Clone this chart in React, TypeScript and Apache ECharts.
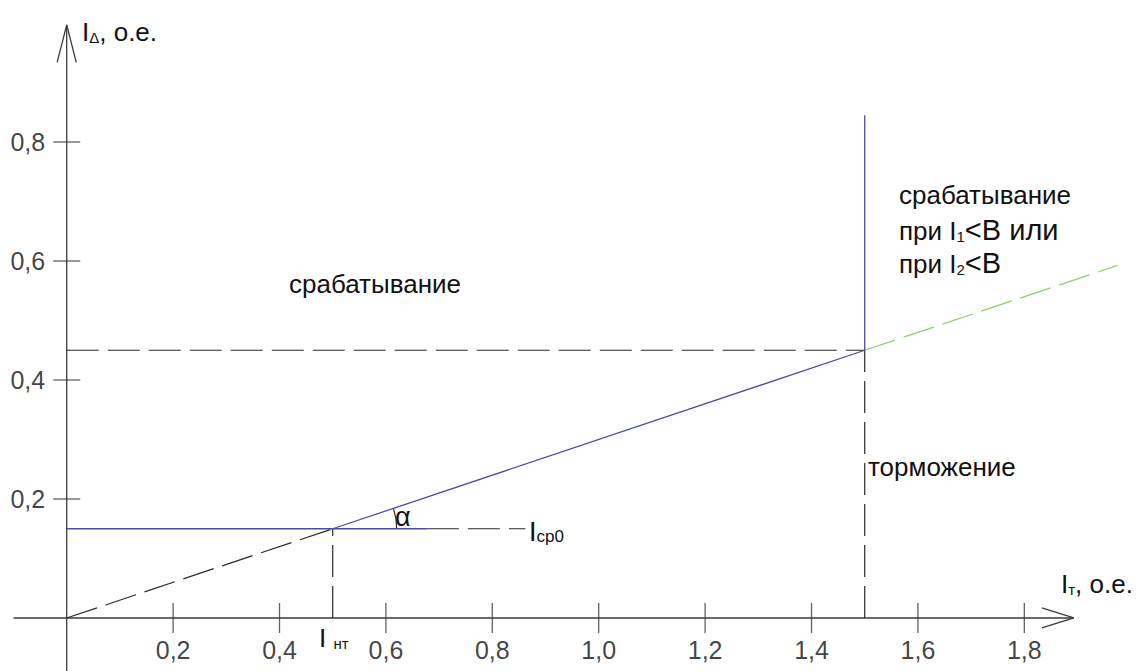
import React, { useEffect, useRef } from 'react';
import * as echarts from 'echarts';

// ---- data ----
const xTicks = [0.2, 0.4, 0.6, 0.8, 1.0, 1.2, 1.4, 1.6, 1.8];
const yTicks = [0.2, 0.4, 0.6, 0.8];

// characteristic (blue)
const blueFlat = [[0, 0.15], [0.677, 0.15]];
const blueSlope = [[0.5, 0.15], [1.5, 0.45]];
const blueVertical = [[1.5, 0.45], [1.5, 0.845]];
// green extension
const greenExt = [[1.5, 0.45], [1.975, 0.5925]];
// black dashed construction lines
const dashOrigin = [[0, 0], [0.5, 0.15]];
const dashIcp0 = [[0.677, 0.15], [0.862, 0.15]];
const dashInt = [[0.5, 0], [0.5, 0.15]];
const dashH045 = [[0, 0.45], [1.5, 0.45]];
const dashV15 = [[1.5, 0], [1.5, 0.45]];
// axes
const xAxisLine = [[-0.1, 0], [1.893, 0]];
const xArrow = [[1.833, 0.0168], [1.893, 0], [1.833, -0.0168]];
const yAxisLine = [[0, -0.09], [0, 0.997]];
const yArrow = [[-0.018, 0.934], [0, 0.997], [0.018, 0.934]];
const kneePoint = [0.5, 0.15];

const X_MIN = -0.1254, X_MAX = 2.0118;
const Y_MIN = -0.0891, Y_MAX = 1.0387;

const FONT = '"Liberation Sans", Arial, Helvetica, sans-serif';
const AX = '#3a3a3a';
const BLUE = '#4c4ca6';
const GREEN = '#88d270';
const DASH = '#2a2a2a';
const TXT = '#111';

const line = (data: number[][], color: string, width: number, dash?: number[]) => ({
  type: 'line',
  data,
  symbol: 'none',
  silent: true,
  lineStyle: { color, width, type: dash ? dash : 'solid' },
});

const fmt = (v: number) => v.toFixed(1).replace('.', ',');

const txt = (x: number, y: number, text: string, fontSize = 26, rich?: any) => ({
  type: 'text',
  x,
  y,
  silent: true,
  style: {
    text,
    fill: TXT,
    fontSize,
    fontFamily: FONT,
    align: 'left',
    verticalAlign: 'middle',
    rich,
  },
});

export default function App() {
  const ref = useRef<HTMLDivElement>(null);
  useEffect(() => {
    if (!ref.current) return;
    const chart = echarts.init(ref.current, undefined, { renderer: 'svg' });
    const dash = [32, 9];
    chart.setOption({
      animation: false,
      backgroundColor: '#ffffff',
      grid: { left: 0, right: 0, top: 0, bottom: 0, containLabel: false },
      xAxis: { type: 'value', min: X_MIN, max: X_MAX, show: false },
      yAxis: { type: 'value', min: Y_MIN, max: Y_MAX, show: false },
      series: [
        line(xAxisLine, AX, 1.3),
        line(xArrow, AX, 1.3),
        line(yAxisLine, AX, 1.3),
        line(yArrow, AX, 1.3),
        line(dashOrigin, DASH, 1.2, dash),
        line(dashIcp0, DASH, 1.2, dash),
        line(dashInt, DASH, 1.2, dash),
        line(dashH045, DASH, 1.2, dash),
        line(dashV15, DASH, 1.2, dash),
        line(greenExt, GREEN, 1.3, dash),
        line(blueFlat, BLUE, 1.3),
        line(blueSlope, BLUE, 1.3),
        line(blueVertical, BLUE, 1.3),
        {
          type: 'scatter',
          silent: true,
          data: xTicks.map((v) => [v, 0]),
          symbol: 'rect',
          symbolSize: [1.3, 30],
          itemStyle: { color: AX },
          label: {
            show: true,
            position: 'inside',
            offset: [0, 32],
            color: TXT,
            fontSize: 25,
            fontFamily: FONT,
            formatter: (p: any) => fmt(p.value[0]),
          },
        },
        {
          type: 'scatter',
          silent: true,
          data: yTicks.map((v) => [0, v]),
          symbol: 'rect',
          symbolSize: [27, 1.3],
          itemStyle: { color: AX },
          label: {
            show: true,
            position: 'left',
            distance: 8,
            color: TXT,
            fontSize: 25,
            fontFamily: FONT,
            formatter: (p: any) => fmt(p.value[1]),
          },
        },
      ],
    });

    const [kx, ky] = chart.convertToPixel({ gridIndex: 0 }, kneePoint) as number[];
    const [sx, sy] = chart.convertToPixel({ gridIndex: 0 }, blueSlope[1]) as number[];
    const ang = Math.atan2(sy - ky, sx - kx);
    const small = { fontSize: 15, fontFamily: FONT, fill: TXT, verticalAlign: 'bottom', lineHeight: 30 };
    const big = { fontSize: 26, fontFamily: FONT, fill: TXT, verticalAlign: 'bottom', lineHeight: 30 };
    const bigger = { fontSize: 29, fontFamily: FONT, fill: TXT, verticalAlign: 'bottom', lineHeight: 30 };

    chart.setOption({
      graphic: [
        {
          type: 'arc',
          silent: true,
          shape: { cx: kx, cy: ky, r: 64, startAngle: ang, endAngle: 0, clockwise: true },
          style: { stroke: DASH, lineWidth: 1.2, fill: 'none' },
        },
        txt(395, 517, 'α', 27),
        txt(82, 30, '{b|I}{s|Δ}{b|, о.е.}', 26, { b: big, s: small }),
        txt(1061, 582, '{b|I}{s|т}{b|, о.е.}', 26, { b: big, s: small }),
        txt(319, 636, '{b|I} {s|нт}', 26, { b: big, s: small }),
        txt(529, 530, '{b|I}{s|ср0}', 26, { b: { ...big, fontSize: 27 }, s: { ...small, fontSize: 17 } }),
        txt(289, 284, 'срабатывание', 26),
        txt(868, 467, 'торможение', 26),
        txt(899, 195, 'срабатывание', 26),
        txt(899, 229, '{b|при I}{s|1}{g|<B или}', 26, { b: big, s: small, g: bigger }),
        txt(899, 262, '{b|при I}{s|2}{g|<B}', 26, { b: big, s: small, g: bigger }),
      ],
    });

    return () => chart.dispose();
  }, []);
  return (
    <div
      ref={ref}
      style={{ position: 'fixed', left: 0, top: 0, width: 1137, height: 671, background: '#fff' }}
    />
  );
}
